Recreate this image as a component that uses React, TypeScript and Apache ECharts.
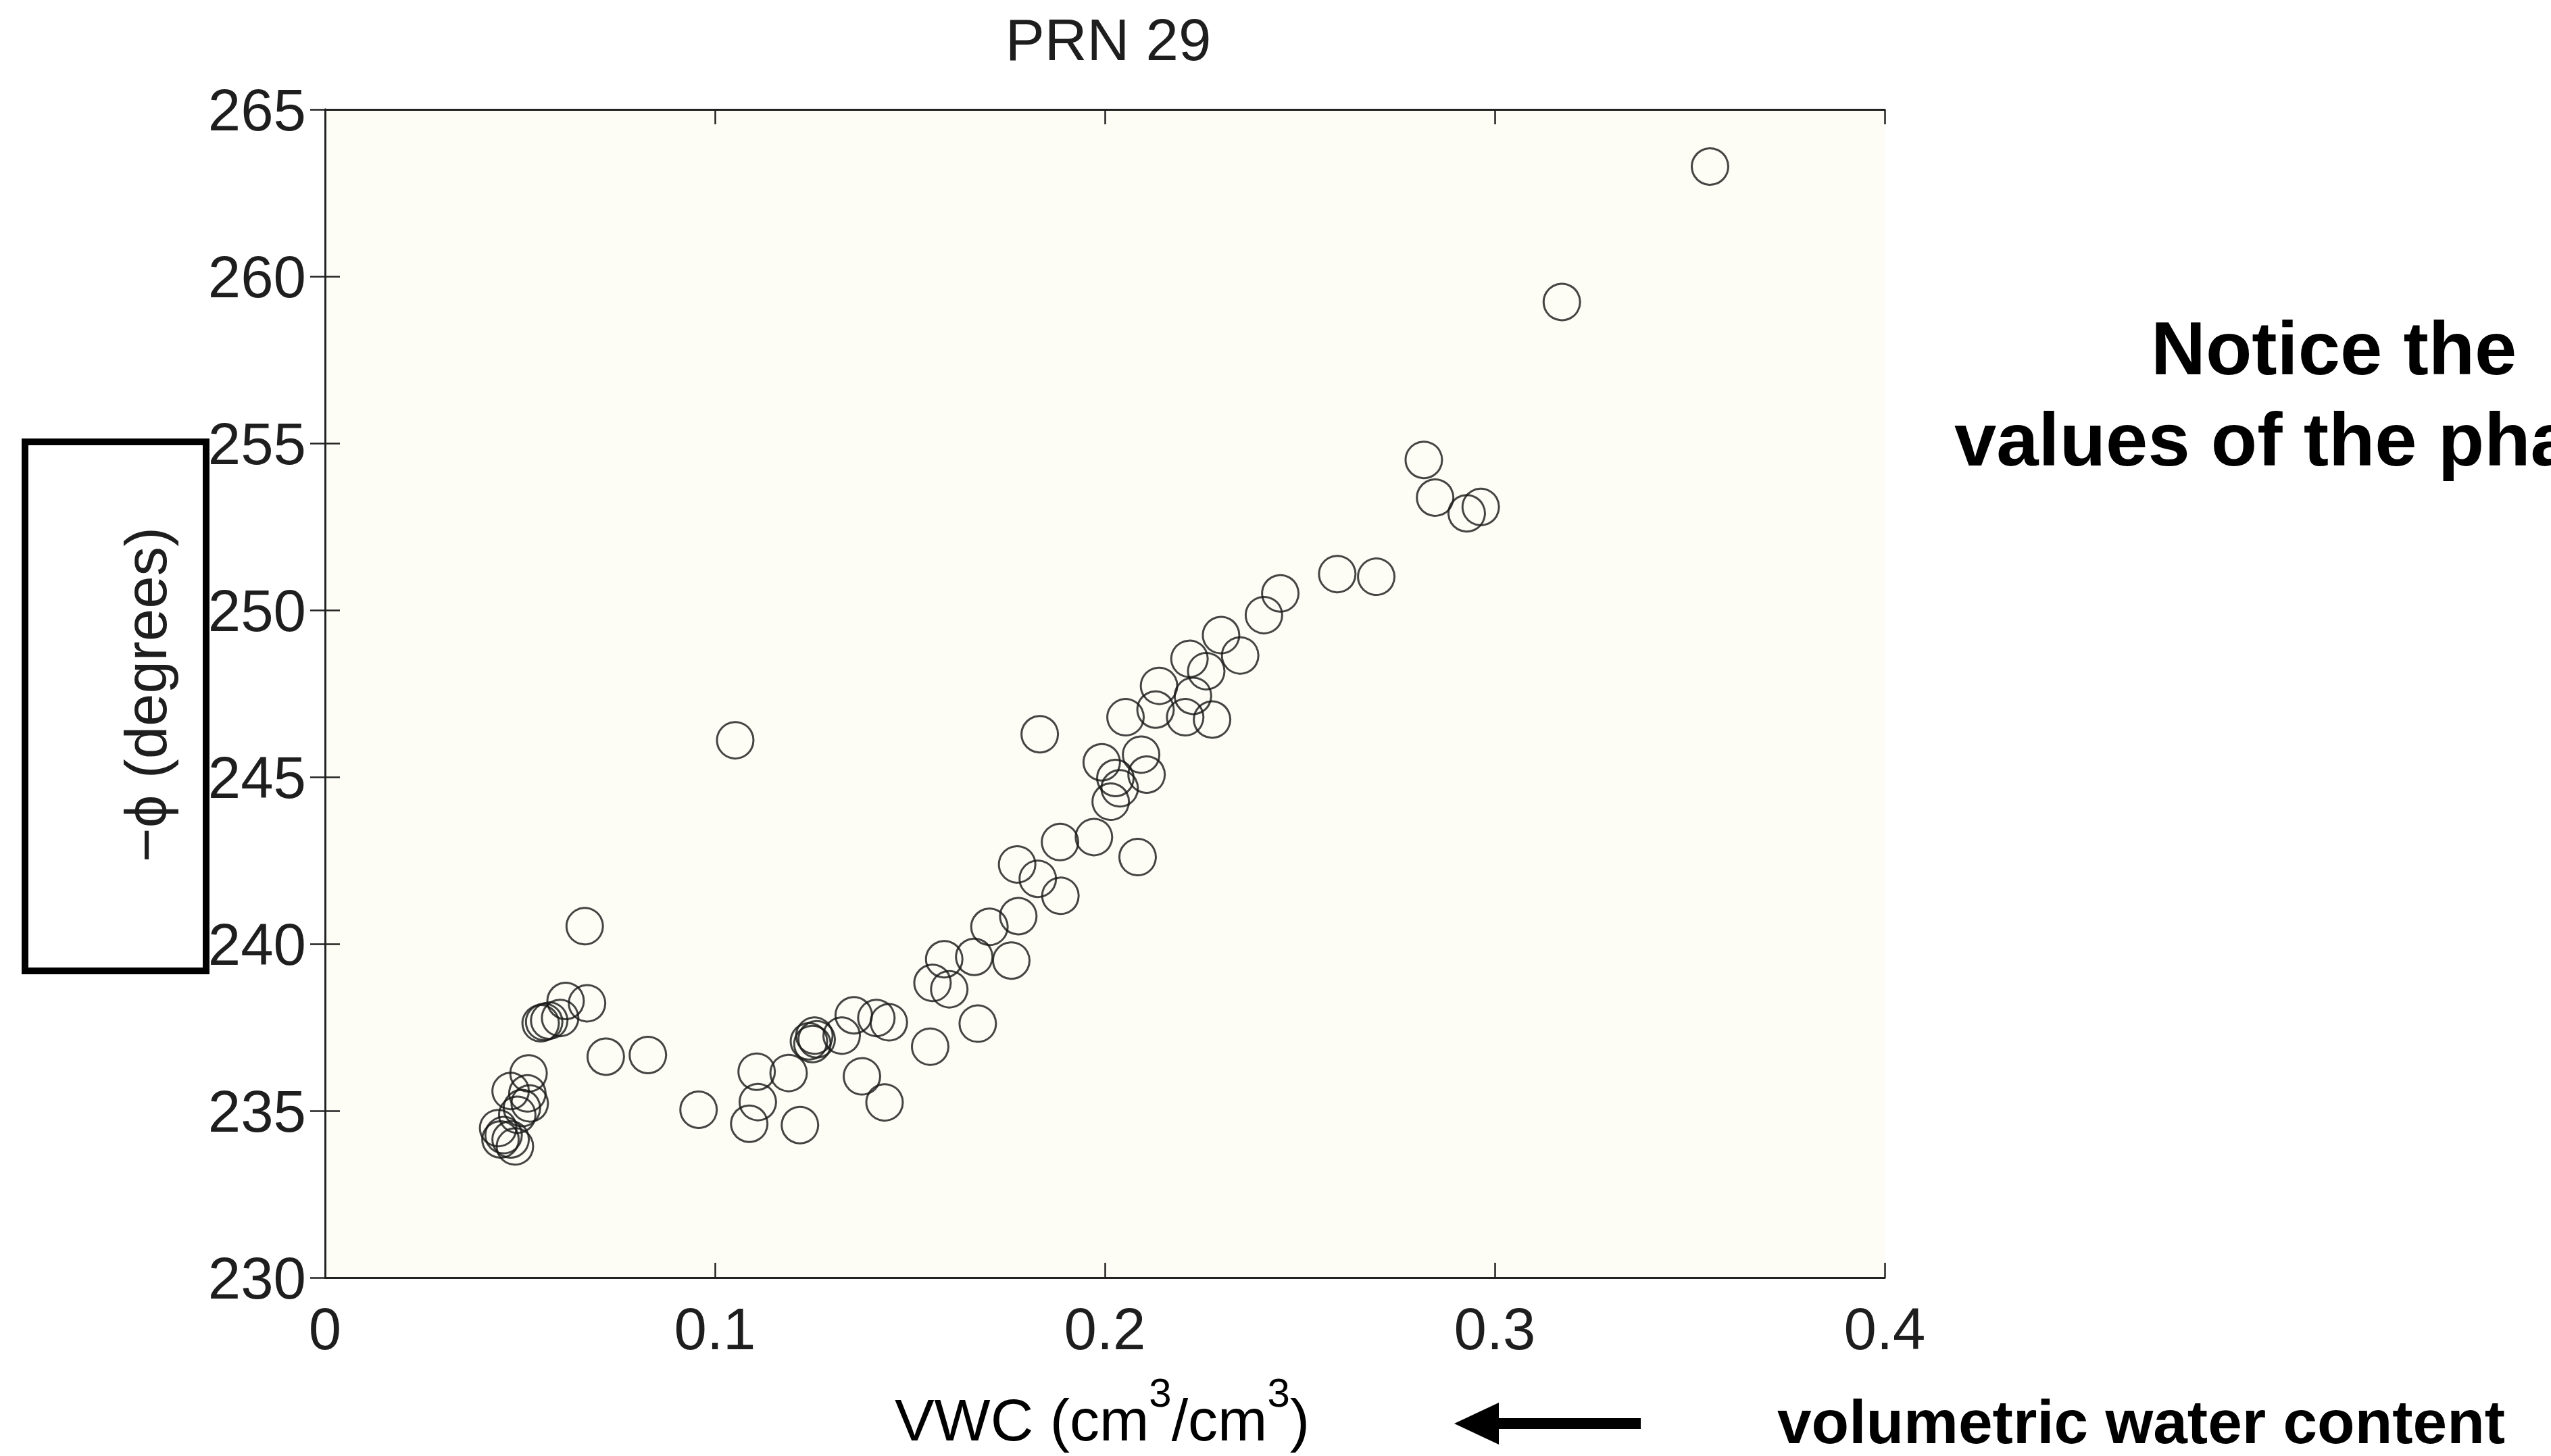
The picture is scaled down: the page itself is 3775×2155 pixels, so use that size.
import React, { useEffect, useRef } from "react";
import * as echarts from "echarts";

// ---- data ----
const vwc = [
  0.0444, 0.0450, 0.0458, 0.0476, 0.0487, 0.0493, 0.0505, 0.0525, 0.0519, 0.0476, 0.0522,
  0.0553, 0.0562, 0.0575, 0.0603, 0.0617, 0.0672, 0.0666, 0.0720, 0.0828,
  0.0958, 0.1052, 0.1088, 0.1110, 0.1107, 0.1189, 0.1218,
  0.1241, 0.1250, 0.1255, 0.1261, 0.1325, 0.1356, 0.1377, 0.1414, 0.1446, 0.1435,
  0.1552, 0.1558, 0.1601, 0.1588, 0.1674, 0.1665, 0.1704, 0.1760, 0.1778, 0.1775,
  0.1828, 0.1886, 0.1885, 0.1972, 0.1833, 0.2084,
  0.1992, 0.2015, 0.2027, 0.2038, 0.2093, 0.2107, 0.2053, 0.2130, 0.2139, 0.2206,
  0.2275, 0.2217, 0.2226, 0.2260, 0.2347, 0.2298, 0.2408, 0.2450,
  0.2596, 0.2696, 0.2818, 0.2847, 0.2928, 0.2964, 0.3172, 0.3552,
];
const phase = [
  234.48, 234.14, 234.27, 234.14, 233.93, 234.88, 235.08, 235.22, 235.52, 235.59, 236.12,
  237.62, 237.66, 237.70, 237.78, 238.29, 238.22, 240.53, 236.62, 236.67,
  235.03, 246.10, 234.61, 235.26, 236.17, 236.13, 234.57,
  237.08, 237.00, 237.25, 237.14, 237.25, 237.86, 236.03, 237.78, 237.65, 235.25,
  236.92, 238.83, 238.64, 239.54, 237.61, 239.61, 240.51, 239.50, 240.83, 242.38,
  241.95, 241.44, 243.05, 243.20, 246.28, 242.60,
  245.44, 244.26, 244.97, 244.66, 245.67, 245.07, 246.79, 247.02, 247.73, 246.79,
  246.72, 248.54, 247.43, 248.17, 248.64, 249.25, 249.85, 250.50,
  251.08, 251.00, 254.50, 253.37, 252.90, 253.09, 259.23, 263.29,
];
const xTickLabels = ["0", "0.1", "0.2", "0.3", "0.4"];
const yTickLabels = ["230", "235", "240", "245", "250", "255", "260", "265"];

const titleText = "PRN 29";
const yAxisTitle = "\u2212\u03d5 (degrees)";
const noteLine1 = "Notice the";
const noteLine2 = "values of the phase";
const arrowNote = "volumetric water content";

const FONT = "'Liberation Sans', Arial, Helvetica, sans-serif";

export default function App() {
  const ref = useRef<HTMLDivElement>(null);

  useEffect(() => {
    document.body.style.margin = "0";
    if (!ref.current) return;
    const chart = echarts.init(ref.current, undefined, { renderer: "svg" });

    const axisCommon = {
      type: "value" as const,
      axisLine: { show: true, lineStyle: { color: "#222", width: 3 } },
      axisTick: { show: true, inside: true, length: 22, lineStyle: { color: "#222", width: 2.5 } },
      splitLine: { show: false },
    };

    const option: any = {
      animation: false,
      backgroundColor: "#ffffff",
      grid: {
        left: 481,
        top: 162,
        width: 2308,
        height: 1729,
        show: true,
        backgroundColor: "#FDFDF6",
        borderWidth: 0,
      },
      xAxis: [
        {
          ...axisCommon,
          position: "bottom",
          min: 0,
          max: 0.4,
          interval: 0.1,
          axisLabel: {
            fontSize: 87,
            color: "#1e1e1e",
            fontFamily: FONT,
            margin: 32,
            formatter: (_v: number, i: number) => xTickLabels[i],
          },
        },
        {
          ...axisCommon,
          position: "top",
          min: 0,
          max: 0.4,
          interval: 0.1,
          axisLabel: { show: false },
        },
      ],
      yAxis: [
        {
          ...axisCommon,
          position: "left",
          min: 230,
          max: 265,
          interval: 5,
          axisLabel: {
            fontSize: 87,
            color: "#1e1e1e",
            fontFamily: FONT,
            margin: 28,
            formatter: (_v: number, i: number) => yTickLabels[i],
          },
        },
        {
          ...axisCommon,
          position: "right",
          min: 230,
          max: 265,
          interval: 5,
          axisLabel: { show: false },
        },
      ],
      series: [
        {
          type: "scatter",
          xAxisIndex: 0,
          yAxisIndex: 0,
          symbol: "circle",
          symbolSize: 54,
          clip: false,
          itemStyle: { color: "rgba(0,0,0,0)", borderColor: "#161616", borderWidth: 3 },
          emphasis: { disabled: true },
          data: vwc.map((x, i) => [x, phase[i]]),
        },
      ],
      graphic: [
        {
          type: "text",
          x: 1640,
          y: 58,
          style: {
            text: titleText,
            font: `87px ${FONT}`,
            fill: "#1e1e1e",
            align: "center",
            verticalAlign: "middle",
          },
        },
        {
          type: "text",
          x: 215,
          y: 1028,
          rotation: Math.PI / 2,
          style: {
            text: yAxisTitle,
            font: `87px ${FONT}`,
            fill: "#1e1e1e",
            align: "center",
            verticalAlign: "middle",
          },
        },
        {
          type: "rect",
          shape: { x: 37, y: 654, width: 268, height: 783 },
          style: { fill: "none", stroke: "#000", lineWidth: 10 },
        },
        {
          type: "text",
          x: 1631,
          y: 2101,
          style: {
            text: "{a|VWC (cm}{s|3}{a|/cm}{s|3}{a|)}",
            align: "center",
            verticalAlign: "middle",
            rich: {
              a: { fontSize: 88, fontFamily: FONT, color: "#1e1e1e", lineHeight: 140 },
              s: { fontSize: 60, fontFamily: FONT, color: "#1e1e1e", lineHeight: 58, verticalAlign: "top" },
            },
          },
        },
        {
          type: "polygon",
          shape: { points: [[2152, 2107], [2218, 2076], [2218, 2138]] },
          style: { fill: "#000" },
        },
        {
          type: "rect",
          shape: { x: 2210, y: 2099, width: 218, height: 16 },
          style: { fill: "#000" },
        },
        {
          type: "text",
          x: 2630,
          y: 2104,
          style: {
            text: arrowNote,
            font: `bold 91px ${FONT}`,
            lineHeight: 80,
            fill: "#000",
            align: "left",
            verticalAlign: "middle",
          },
        },
        {
          type: "text",
          x: 3183,
          y: 515,
          style: {
            text: noteLine1,
            font: `bold 112px ${FONT}`,
            fill: "#000",
            align: "left",
            verticalAlign: "middle",
          },
        },
        {
          type: "text",
          x: 2892,
          y: 650,
          style: {
            text: noteLine2,
            font: `bold 112px ${FONT}`,
            fill: "#000",
            align: "left",
            verticalAlign: "middle",
          },
        },
      ],
    };

    chart.setOption(option);
    return () => {
      chart.dispose();
    };
  }, []);

  return <div ref={ref} style={{ width: 3775, height: 2155 }} />;
}
